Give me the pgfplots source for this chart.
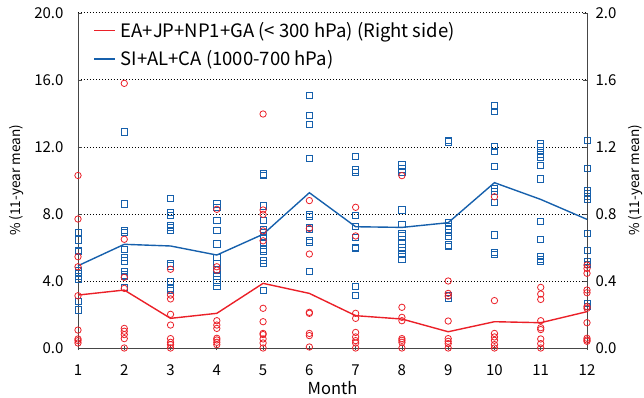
\documentclass[border=0pt]{standalone}
\usepackage{pgfplots}
\pgfplotsset{compat=1.18}
\usepackage{fontspec}
\setmainfont{Noto Sans CJK JP}
\definecolor{cred}{RGB}{235,32,40}
\definecolor{cblue}{RGB}{22,96,172}
\definecolor{spine}{RGB}{70,70,70}
\begin{document}
\begin{tikzpicture}
\pgfplotsset{
  common/.style={
    scale only axis, width=509bp, height=335bp,
    at={(0,0)}, anchor=south west,
    xmin=1, xmax=12, xtick={1,...,12},
    /pgf/number format/assume math mode=true,
    tick label style={font=\fontsize{15bp}{17bp}\selectfont},
    axis line style={spine, line width=1pt},
    major tick length=4bp,
    tick style={spine, line width=0.8pt},
    clip=false,
  }
}
\begin{axis}[common,
  axis x line*=bottom, axis y line*=left,
  ymin=0, ymax=20, ytick={0,4,...,20},
  yticklabel style={xshift=-11bp, /pgf/number format/.cd, fixed, fixed zerofill, precision=1},
  xticklabel style={yshift=-11bp},
  ytick style={spine}, xtick align=center, ytick align=inside,
  ymajorgrids, grid style={black, line width=1pt, dash pattern=on 1.5bp off 1.5bp},
  xlabel={Month}, ylabel={\% (11-year mean)},
  every axis x label/.style={at={(rel axis cs:0.5,0)}, anchor=center, yshift=-40bp,
    font=\fontsize{16.5bp}{19bp}\selectfont},
  every axis y label/.style={at={(rel axis cs:0,0.5)}, anchor=center, xshift=-61.5bp, rotate=90,
    font=\fontsize{13.6bp}{16bp}\selectfont},
  legend style={draw=none, fill=none, at={(0.0246,0.985)}, anchor=north west,
    font=\fontsize{18.5bp}{21bp}\selectfont, row sep=8bp,
    legend cell align=left, nodes={inner xsep=4.5bp}},
  legend image code/.code={\draw[#1] (0bp,0bp) -- (21bp,0bp);},
]
\addlegendimage{cred, line width=1.4pt}
\addlegendentry{EA+JP+NP1+GA (< 300 hPa) (Right side)}
\addlegendimage{cblue, line width=1.4pt}
\addlegendentry{SI+AL+CA (1000-700 hPa)}
\addplot[only marks, mark=square, mark size=3.1bp, mark options={cblue, line width=0.8pt}, forget plot] coordinates {
(1,6.9) (1,6.45) (1,5.85) (1,5.75) (1,4.62) (1,4.46) (1,4.26) (1,4.12) (1,2.77) (1,2.27)
(2,12.9) (2,8.6) (2,7.0) (2,6.9) (2,5.89) (2,5.39) (2,5.2) (2,4.56) (2,4.36) (2,4.26) (2,3.62)
(3,8.94) (3,8.1) (3,7.94) (3,7.34) (3,7.18) (3,7.0) (3,5.05) (3,4.9) (3,3.96) (3,3.56) (3,3.46)
(4,8.6) (4,8.4) (4,7.64) (4,7.0) (4,6.21) (4,5.41) (4,5.05) (4,4.7) (4,4.26) (4,4.06) (4,3.9) (4,3.7)
(5,10.39) (5,10.3) (5,8.48) (5,7.64) (5,7.09) (5,6.9) (5,6.6) (5,6.3) (5,5.89) (5,5.75) (5,5.25) (5,5.05) (5,3.46)
(6,15.06) (6,13.87) (6,13.35) (6,11.32) (6,7.98) (6,7.84) (6,7.18) (6,7.08) (6,6.41) (6,6.29) (6,4.56)
(7,11.42) (7,10.63) (7,10.47) (7,7.94) (7,7.24) (7,6.6) (7,6.01) (7,5.95) (7,3.66) (7,3.16)
(8,10.93) (8,10.69) (8,10.5) (8,8.24) (8,7.4) (8,6.85) (8,6.69) (8,6.21) (8,6.01) (8,5.81) (8,5.61) (8,5.29)
(9,12.38) (9,12.3) (9,7.48) (9,7.24) (9,7.08) (9,6.9) (9,6.64) (9,6.15) (9,6.05) (9,3.16) (9,2.97)
(10,14.45) (10,14.11) (10,12.02) (10,11.73) (10,10.82) (10,9.53) (10,9.35) (10,8.7) (10,6.75) (10,5.69) (10,5.61)
(11,12.18) (11,12.02) (11,11.78) (11,11.58) (11,11.38) (11,10.89) (11,10.09) (11,7.54) (11,6.49) (11,5.49) (11,5.29) (11,5.15)
(12,12.38) (12,10.73) (12,9.43) (12,9.23) (12,9.03) (12,8.9) (12,6.85) (12,5.81) (12,5.15) (12,5.0) (12,2.67) (12,2.5)
};
\addplot[cblue, line width=1.4pt, mark=none, forget plot] coordinates {
(1,4.91) (2,6.19) (3,6.09) (4,5.55) (5,6.79) (6,9.27) (7,7.24) (8,7.2) (9,7.48) (10,9.87) (11,8.87) (12,7.68)
};
\end{axis}
\begin{axis}[common,
  axis x line=none, axis y line*=right,
  ymin=0, ymax=2, ytick={0,0.4,...,2.0},
  yticklabel style={xshift=5bp, /pgf/number format/.cd, fixed, fixed zerofill, precision=1},
  ytick align=inside,
  ylabel={\% (11-year mean)},
  every axis y label/.style={at={(rel axis cs:1,0.5)}, anchor=center, xshift=49bp, rotate=90,
    font=\fontsize{13.6bp}{16bp}\selectfont},
]
\addplot[only marks, mark=o, mark size=3.2bp, mark options={cred, line width=0.8pt}] coordinates {
(1,1.03) (1,0.77) (1,0.545) (1,0.485) (1,0.312) (1,0.107) (1,0.054) (1,0.044) (1,0.03)
(2,1.58) (2,0.649) (2,0.422) (2,0.356) (2,0.117) (2,0.10) (2,0.08) (2,0.056) (2,0.0)
(3,0.47) (3,0.316) (3,0.293) (3,0.201) (3,0.137) (3,0.056) (3,0.034) (3,0.0) (3,0.02)
(4,0.828) (4,0.485) (4,0.465) (4,0.163) (4,0.137) (4,0.117) (4,0.058) (4,0.048) (4,0.034) (4,0.02)
(5,1.397) (5,0.824) (5,0.798) (5,0.699) (5,0.64) (5,0.237) (5,0.157) (5,0.087) (5,0.08) (5,0.054) (5,0.03) (5,0.0)
(6,0.88) (6,0.714) (6,0.561) (6,0.213) (6,0.207) (6,0.087) (6,0.074) (6,0.006)
(7,0.84) (7,0.669) (7,0.207) (7,0.177) (7,0.093) (7,0.066) (7,0.044) (7,0.03) (7,0.0)
(8,1.029) (8,0.243) (8,0.183) (8,0.163) (8,0.056) (8,0.046) (8,0.034) (8,0.0)
(9,0.40) (9,0.326) (9,0.31) (9,0.161) (9,0.056) (9,0.04) (9,0.026) (9,0.0)
(10,0.903) (10,0.283) (10,0.087) (10,0.066) (10,0.046) (10,0.02) (10,0.0)
(11,0.362) (11,0.322) (11,0.29) (11,0.163) (11,0.121) (11,0.11) (11,0.054) (11,0.026) (11,0.0)
(12,0.495) (12,0.475) (12,0.446) (12,0.346) (12,0.33) (12,0.247) (12,0.237) (12,0.151) (12,0.058) (12,0.048) (12,0.04)
};
\addplot[cred, line width=1.4pt, mark=none] coordinates {
(1,0.316) (2,0.346) (3,0.177) (4,0.207) (5,0.386) (6,0.326) (7,0.193) (8,0.173) (9,0.097) (10,0.157) (11,0.151) (12,0.217)
};
\end{axis}
\pgfresetboundingbox
\useasboundingbox (-78bp,-50bp) rectangle (566bp,348bp);
\end{tikzpicture}
\end{document}
